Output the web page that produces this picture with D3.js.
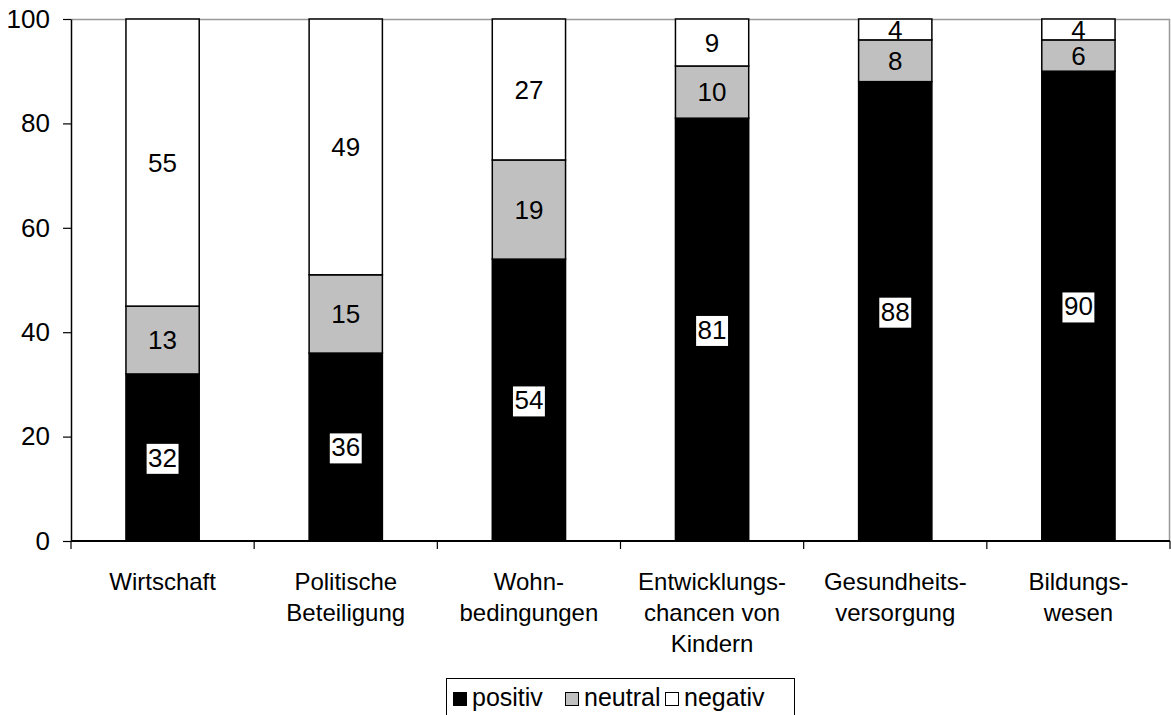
<!DOCTYPE html>
<html><head><meta charset="utf-8">
<script src="https://cdn.jsdelivr.net/npm/d3@7"></script>
<style>body{margin:0;background:#fff}svg{display:block;font-family:"Liberation Sans",Arial,sans-serif}</style>
</head><body><svg id="c" width="1171" height="715"></svg>
<script>
const categories = [["Wirtschaft"],["Politische","Beteiligung"],["Wohn-","bedingungen"],["Entwicklungs-","chancen von","Kindern"],["Gesundheits-","versorgung"],["Bildungs-","wesen"]];
const positiv = [32,36,54,81,88,90];
const neutral = [13,15,19,10,8,6];
const negativ = [55,49,27,9,4,4];
const seriesNames = ["positiv","neutral","negativ"];
const seriesColors = ["#000000","#c0c0c0","#ffffff"];
const yTicks = [0,20,40,60,80,100];

const FS = 24, NFS = 26, LFS = 25;
const svg = d3.select("#c");
const m = {l:71, t:19, r:1170, b:541};
const keys = categories.map((c,i)=>i);
const x = d3.scaleBand().domain(keys).range([m.l,m.r]).paddingInner(0.6).paddingOuter(0.3);
const y = d3.scaleLinear().domain([0,100]).range([m.b,m.t]);

// plot frame (gray top/right)
svg.append("line").attr("x1",m.l).attr("x2",m.r).attr("y1",m.t+0.5).attr("y2",m.t+0.5).attr("stroke","#999").attr("stroke-width",1.5);
svg.append("line").attr("x1",m.r-0.5).attr("x2",m.r-0.5).attr("y1",m.t).attr("y2",m.b).attr("stroke","#999").attr("stroke-width",1.5);

const rows = keys.map(i=>({i, positiv:positiv[i], neutral:neutral[i], negativ:negativ[i]}));
const stack = d3.stack().keys(seriesNames)(rows);

stack.forEach((s,si)=>{
  svg.append("g").selectAll("rect").data(s).join("rect")
    .attr("x",d=>x(d.data.i)).attr("width",x.bandwidth())
    .attr("y",d=>y(d[1])).attr("height",d=>y(d[0])-y(d[1]))
    .attr("fill",seriesColors[si]).attr("stroke","#000").attr("stroke-width",1.5);
});

// labels
stack.forEach((s,si)=>{
  const g = svg.append("g");
  s.forEach(d=>{
    const v = d[1]-d[0];
    const cx = x(d.data.i)+x.bandwidth()/2;
    const cy = y((d[0]+d[1])/2);
    const t = g.append("text").attr("x",cx).attr("y",cy).attr("dy","0.36em")
      .attr("text-anchor","middle").attr("font-size",NFS).attr("fill","#000").text(v);
    if(si===0){
      const bb = t.node().getBBox();
      g.insert("rect",()=>t.node()).attr("x",bb.x-1.5).attr("y",bb.y+1).attr("width",bb.width+3).attr("height",bb.height).attr("fill","#fff");
    }
  });
});

// axes
const ya = d3.axisLeft(y).tickValues(yTicks).tickSize(8).tickSizeOuter(0).tickPadding(13);
const gy = svg.append("g").attr("transform",`translate(${m.l},0)`).call(ya);
gy.selectAll("text").attr("font-size",NFS).attr("fill","#000").attr("font-family","Liberation Sans, Arial, sans-serif");
gy.select(".domain").attr("stroke","#000").attr("stroke-width",1.5);
gy.selectAll(".tick line").attr("stroke","#000").attr("stroke-width",1.2);

svg.append("line").attr("x1",m.l).attr("x2",m.r).attr("y1",m.b).attr("y2",m.b).attr("stroke","#000").attr("stroke-width",2);
const bounds = d3.range(categories.length+1).map(k=>m.l+k*(m.r-m.l)/categories.length);
svg.append("g").selectAll("line").data(bounds).join("line")
  .attr("x1",d=>d).attr("x2",d=>d).attr("y1",m.b).attr("y2",m.b+8).attr("stroke","#000").attr("stroke-width",1.2);

const cl = svg.append("g");
categories.forEach((lines,i)=>{
  const t = cl.append("text").attr("x",x(i)+x.bandwidth()/2).attr("y",590).attr("text-anchor","middle").attr("font-size",FS).attr("fill","#000");
  lines.forEach((ln,j)=>t.append("tspan").attr("x",x(i)+x.bandwidth()/2).attr("dy",j===0?0:31).text(ln));
});

// legend
const lg = svg.append("g");
lg.append("rect").attr("x",446.5).attr("y",678.5).attr("width",348).attr("height",40).attr("fill","#fff").attr("stroke","#000").attr("stroke-width",1);
const lx = [453,565,665];
seriesNames.forEach((n,i)=>{
  lg.append("rect").attr("x",lx[i]+0.5).attr("y",692.5).attr("width",13).attr("height",13).attr("fill",seriesColors[i]).attr("stroke","#000").attr("stroke-width",1);
  lg.append("text").attr("x",lx[i]+19).attr("y",706).attr("font-size",LFS).attr("fill","#000").text(n);
});
</script></body></html>
